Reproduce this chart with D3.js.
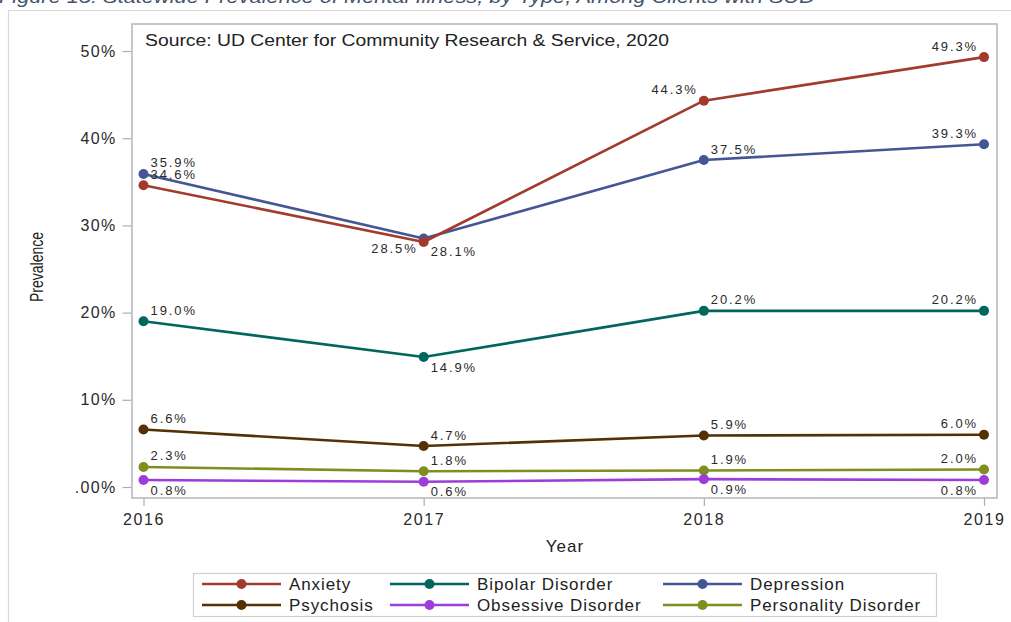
<!DOCTYPE html>
<html>
<head>
<meta charset="utf-8">
<script src="https://cdn.jsdelivr.net/npm/d3@7"></script>
<style>
  html, body { margin: 0; padding: 0; background: #fff; }
  svg { display: block; }
  text { font-family: "Liberation Sans", Arial, sans-serif; }
</style>
</head>
<body>
<svg id="chart" width="1011" height="622"></svg>
<script>
// ---------------- data ----------------
const years = [2016, 2017, 2018, 2019];
const seriesNames = ["Anxiety", "Bipolar Disorder", "Depression", "Psychosis", "Obsessive Disorder", "Personality Disorder"];
const anxiety     = [34.6, 28.1, 44.3, 49.3];
const bipolar     = [19.0, 14.9, 20.2, 20.2];
const depression  = [35.9, 28.5, 37.5, 39.3];
const psychosis   = [6.6, 4.7, 5.9, 6.0];
const obsessive   = [0.8, 0.6, 0.9, 0.8];
const personality = [2.3, 1.8, 1.9, 2.0];
const yTicks = [0, 10, 20, 30, 40, 50];
const titleText = "Figure 15: Statewide Prevalence of Mental Illness, by Type, Among Clients with SUD";
const sourceText = "Source: UD Center for Community Research & Service, 2020";

// ---------------- layout / style ----------------
const colors = {
  "Anxiety": "#A23A2E", "Bipolar Disorder": "#01665E", "Depression": "#445694",
  "Psychosis": "#543005", "Obsessive Disorder": "#9D3CDB", "Personality Disorder": "#7F8E1F"
};
// label placement per point (layout only)
const placement = {
  "Anxiety": ["ne", "se", "nw", "nw"],
  "Bipolar Disorder": ["ne", "se", "ne", "nw"],
  "Depression": ["ne", "sw", "ne", "nw"],
  "Psychosis": ["ne", "ne", "ne", "nw"],
  "Obsessive Disorder": ["se", "se", "se", "sw"],
  "Personality Disorder": ["ne", "ne", "ne", "nw"]
};
const valuesByName = {
  "Anxiety": anxiety, "Bipolar Disorder": bipolar, "Depression": depression,
  "Psychosis": psychosis, "Obsessive Disorder": obsessive, "Personality Disorder": personality
};
const drawOrder = ["Depression", "Anxiety", "Bipolar Disorder", "Psychosis", "Personality Disorder", "Obsessive Disorder"];

const svg = d3.select("#chart");
const frame = { left: 132, top: 24, right: 997, bottom: 498 };
const x = d3.scaleLinear().domain([2016, 2019]).range([143.5, 984]);
const y = d3.scaleLinear().domain([0, 50]).range([487, 51]);

// outer page frame
svg.append("line").attr("x1", 8).attr("x2", 1011).attr("y1", 10.5).attr("y2", 10.5)
  .attr("stroke", "#d9d9d9").attr("stroke-width", 1.2);
svg.append("line").attr("x1", 8.5).attr("x2", 8.5).attr("y1", 10).attr("y2", 622)
  .attr("stroke", "#d9d9d9").attr("stroke-width", 1.2);

// figure title (cut at top)
svg.append("text").attr("x", -1).attr("y", 3)
  .attr("font-style", "italic").attr("font-size", 18).attr("fill", "#44546A")
  .attr("textLength", 816).attr("lengthAdjust", "spacingAndGlyphs")
  .text(titleText);

// y axis
const yAxis = d3.axisLeft(y).tickValues(yTicks).tickSize(9).tickPadding(6)
  .tickFormat(d => d === 0 ? ".00%" : d + "%");
const gy = svg.append("g").attr("transform", `translate(${frame.left - 0.5},0)`).call(yAxis);
gy.select(".domain").remove();
gy.selectAll(".tick line").attr("stroke", "#a8b0b5").attr("stroke-width", 1.2);
gy.selectAll(".tick text").attr("font-size", 16).attr("fill", "#2a2a2a")
  .attr("letter-spacing", "1.3px").attr("font-family", "'Liberation Sans', Arial, sans-serif");

// x axis
const xAxis = d3.axisBottom(x).tickValues(years).tickSize(8).tickPadding(8).tickFormat(d3.format("d"));
const gx = svg.append("g").attr("transform", `translate(0,${frame.bottom})`).call(xAxis);
gx.select(".domain").remove();
gx.selectAll(".tick line").attr("stroke", "#a8b0b5").attr("stroke-width", 1.2);
gx.selectAll(".tick text").attr("font-size", 16).attr("fill", "#2a2a2a")
  .attr("letter-spacing", "1.6px").attr("font-family", "'Liberation Sans', Arial, sans-serif");

// plot frame
svg.append("rect").attr("x", frame.left).attr("y", frame.top)
  .attr("width", frame.right - frame.left).attr("height", frame.bottom - frame.top)
  .attr("fill", "none").attr("stroke", "#b3bbc0").attr("stroke-width", 1.6);

// axis titles
svg.append("text").attr("x", 565).attr("y", 552).attr("text-anchor", "middle")
  .attr("font-size", 17).attr("letter-spacing", "1px").attr("fill", "#222").text("Year");
svg.append("text").attr("transform", "translate(43,302) rotate(-90)").attr("text-anchor", "start")
  .attr("font-size", 18).attr("fill", "#222")
  .attr("textLength", 70).attr("lengthAdjust", "spacingAndGlyphs").text("Prevalence");

// source note
svg.append("text").attr("x", 145).attr("y", 46).attr("font-size", 16).attr("fill", "#222")
  .attr("textLength", 524).attr("lengthAdjust", "spacingAndGlyphs").text(sourceText);

// series
const line = d3.line().x((d, i) => x(years[i])).y(d => y(d));
const gSeries = svg.append("g");
drawOrder.forEach(name => {
  const vals = valuesByName[name];
  const g = gSeries.append("g");
  g.append("path").datum(vals).attr("d", line).attr("fill", "none")
    .attr("stroke", colors[name]).attr("stroke-width", 2.6).attr("stroke-linejoin", "round");
  g.selectAll("circle").data(vals).join("circle")
    .attr("cx", (d, i) => x(years[i])).attr("cy", d => y(d)).attr("r", 5)
    .attr("fill", colors[name]);
});

// data labels
const gLabels = svg.append("g");
drawOrder.forEach(name => {
  const vals = valuesByName[name];
  vals.forEach((v, i) => {
    const p = placement[name][i];
    const px = x(years[i]), py = y(v);
    const east = p[1] === "e";
    const north = p[0] === "n";
    gLabels.append("text")
      .attr("x", east ? px + 7 : px - 6)
      .attr("y", north ? py - 11 : py + 10)
      .attr("dominant-baseline", "central")
      .attr("text-anchor", east ? "start" : "end")
      .attr("font-size", 13).attr("letter-spacing", "1.9px").attr("fill", "#2a2a2a")
      .text(v.toFixed(1) + "%");
  });
});

// legend
const legend = svg.append("g");
legend.append("rect").attr("x", 193.5).attr("y", 573.5).attr("width", 743).attr("height", 43)
  .attr("fill", "#fff").attr("stroke", "#cfcfcf").attr("stroke-width", 1.2);
const colX = [202, 390, 663];
const rowY = [584, 605];
seriesNames.forEach((name, k) => {
  const cx0 = colX[k % 3], cy0 = rowY[Math.floor(k / 3)];
  const item = legend.append("g").attr("transform", `translate(${cx0},${cy0})`);
  item.append("line").attr("x1", 0).attr("x2", 79).attr("y1", 0).attr("y2", 0)
    .attr("stroke", colors[name]).attr("stroke-width", 2.6);
  item.append("circle").attr("cx", 39.5).attr("cy", 0).attr("r", 5).attr("fill", colors[name]);
  item.append("text").attr("x", 87).attr("y", 0).attr("dominant-baseline", "central")
    .attr("font-size", 17).attr("letter-spacing", "0.9px").attr("fill", "#222").text(name);
});
</script>
</body>
</html>
